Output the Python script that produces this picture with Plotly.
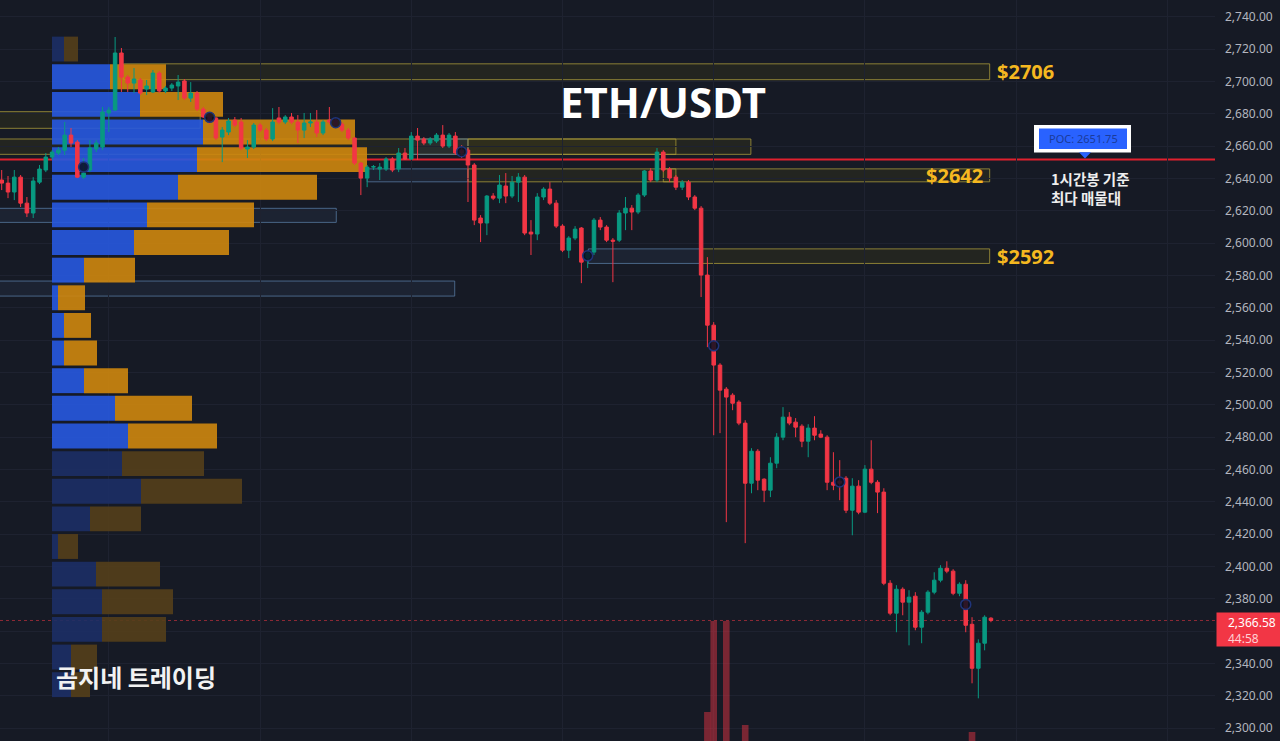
import plotly.graph_objects as go

# ---------------- ETH/USDT hourly candles (oldest -> newest) ----------------
opens = [
    2639.1, 2637.2, 2631.7, 2640.9, 2624.8, 2618.7, 2637.8, 2645.3, 2653.3, 2655.8,
    2657.6, 2666.9, 2662.6, 2640.9, 2645.3, 2658.3, 2659.5, 2680.6, 2682.4, 2717.7,
    2702.8, 2699.1, 2701.0, 2695.4, 2693.6, 2705.3, 2694.2, 2696.0, 2697.3, 2700.4,
    2689.8, 2692.9, 2683.0, 2679.3, 2677.5, 2665.7, 2668.8, 2676.2, 2675.0, 2658.3,
    2659.5, 2673.1, 2670.0, 2664.5, 2677.5, 2675.0, 2678.1, 2675.0, 2670.0, 2674.4,
    2675.0, 2668.2, 2676.2, 2676.2, 2673.7, 2670.0, 2665.1, 2649.6, 2640.3, 2647.1,
    2645.9, 2645.9, 2652.1, 2645.9, 2655.8, 2652.1, 2666.3, 2664.5, 2662.0, 2663.2,
    2666.9, 2660.1, 2666.3, 2657.6, 2657.6, 2648.4, 2615.6, 2612.5, 2629.2, 2627.9,
    2635.4, 2629.2, 2637.8, 2640.9, 2606.9, 2605.7, 2628.6, 2633.5, 2624.8, 2610.6,
    2595.7, 2603.2, 2609.4, 2590.8, 2594.5, 2614.3, 2610.0, 2601.9, 2601.9, 2618.7,
    2621.7, 2619.3, 2629.8, 2644.7, 2639.1, 2656.4, 2645.9, 2640.9, 2634.7, 2637.8,
    2628.6, 2621.7, 2580.3, 2549.3, 2524.6, 2509.7, 2506.0, 2501.7, 2488.7, 2451.5,
    2471.3, 2454.0, 2447.2, 2463.9, 2480.0, 2492.4, 2489.3, 2486.8, 2477.5, 2485.6,
    2481.9, 2480.0, 2452.1, 2452.8, 2454.6, 2434.8, 2449.7, 2433.6, 2460.2, 2452.1,
    2446.0, 2389.6, 2371.1, 2385.9, 2377.9, 2381.6, 2362.4, 2371.7, 2384.1, 2391.5,
    2398.9, 2397.1, 2383.4, 2389.0, 2364.2, 2337.0, 2352.5, 2368.0,
]
highs = [
    2645.3, 2641.6, 2645.3, 2642.2, 2628.6, 2640.9, 2648.4, 2655.8, 2657.6, 2659.5,
    2675.0, 2671.3, 2663.8, 2652.7, 2663.8, 2663.8, 2684.3, 2684.3, 2727.6, 2720.8,
    2704.1, 2708.4, 2702.2, 2701.0, 2707.2, 2706.6, 2697.3, 2699.1, 2704.1, 2701.6,
    2699.7, 2694.2, 2684.3, 2680.6, 2678.1, 2671.9, 2677.5, 2678.1, 2677.5, 2663.8,
    2674.4, 2674.4, 2671.3, 2683.6, 2684.3, 2679.3, 2680.6, 2679.3, 2680.6, 2680.6,
    2682.4, 2676.2, 2684.3, 2677.5, 2675.0, 2671.3, 2665.7, 2650.2, 2648.4, 2648.4,
    2649.6, 2653.3, 2653.3, 2658.9, 2658.9, 2668.8, 2671.3, 2665.7, 2665.7, 2668.2,
    2673.1, 2668.2, 2668.8, 2660.7, 2658.9, 2649.6, 2617.4, 2629.8, 2631.0, 2642.2,
    2643.4, 2641.6, 2643.4, 2642.2, 2614.3, 2631.0, 2634.7, 2637.8, 2626.7, 2611.8,
    2604.4, 2610.6, 2610.0, 2595.7, 2615.6, 2616.2, 2611.2, 2603.2, 2620.5, 2628.6,
    2623.6, 2631.0, 2645.3, 2646.5, 2658.9, 2657.6, 2647.1, 2642.2, 2639.1, 2639.1,
    2629.8, 2623.0, 2591.4, 2551.2, 2525.8, 2511.0, 2507.2, 2502.9, 2490.5, 2473.2,
    2472.6, 2454.6, 2467.6, 2482.5, 2498.6, 2495.5, 2491.8, 2488.0, 2488.0, 2493.0,
    2484.3, 2481.2, 2470.7, 2465.8, 2455.9, 2454.6, 2453.4, 2462.7, 2478.1, 2453.4,
    2448.4, 2391.5, 2388.4, 2387.1, 2385.3, 2384.1, 2373.0, 2385.3, 2396.4, 2400.8,
    2403.2, 2398.3, 2390.2, 2391.5, 2368.6, 2354.9, 2369.8, 2368.6,
]
lows = [
    2632.9, 2627.9, 2626.7, 2622.4, 2616.2, 2615.6, 2636.6, 2644.0, 2651.5, 2654.6,
    2654.6, 2659.5, 2640.3, 2639.7, 2644.0, 2656.4, 2657.6, 2668.8, 2681.8, 2693.6,
    2693.6, 2692.9, 2691.7, 2691.7, 2692.9, 2692.9, 2692.9, 2694.2, 2688.6, 2688.6,
    2687.4, 2681.8, 2677.5, 2673.7, 2663.8, 2650.2, 2666.9, 2671.9, 2657.6, 2652.7,
    2658.3, 2668.8, 2663.2, 2663.2, 2673.7, 2673.7, 2673.7, 2662.0, 2665.1, 2671.9,
    2665.7, 2666.9, 2673.7, 2671.9, 2668.8, 2663.8, 2648.4, 2629.8, 2634.7, 2645.3,
    2639.1, 2644.7, 2644.0, 2644.0, 2651.5, 2651.5, 2651.5, 2660.7, 2660.7, 2662.0,
    2658.9, 2658.9, 2654.6, 2652.7, 2625.5, 2611.2, 2600.7, 2605.0, 2626.7, 2624.8,
    2624.8, 2627.9, 2625.5, 2605.0, 2592.7, 2601.9, 2626.7, 2623.6, 2609.4, 2594.5,
    2590.8, 2601.9, 2575.3, 2584.6, 2592.7, 2608.1, 2600.7, 2575.9, 2600.7, 2608.1,
    2608.1, 2618.0, 2628.6, 2637.8, 2637.8, 2644.0, 2637.8, 2632.9, 2632.9, 2626.7,
    2620.5, 2566.7, 2535.7, 2481.2, 2482.5, 2427.4, 2496.7, 2487.4, 2414.4, 2445.3,
    2447.2, 2439.8, 2442.9, 2460.8, 2478.1, 2487.4, 2480.0, 2473.8, 2467.6, 2478.1,
    2479.4, 2447.2, 2447.2, 2441.0, 2433.0, 2419.3, 2432.3, 2433.0, 2450.9, 2433.0,
    2388.4, 2369.8, 2359.3, 2369.8, 2351.2, 2360.5, 2352.5, 2370.4, 2382.8, 2390.2,
    2395.8, 2382.2, 2381.6, 2359.3, 2327.7, 2318.4, 2348.1, 2365.5,
]
closes = [
    2637.2, 2631.7, 2640.9, 2624.8, 2618.7, 2638.5, 2645.9, 2653.3, 2656.4, 2657.6,
    2666.9, 2662.0, 2640.9, 2643.4, 2658.9, 2662.0, 2681.2, 2682.4, 2717.7, 2702.8,
    2699.1, 2701.6, 2692.9, 2697.3, 2705.3, 2694.2, 2696.0, 2697.9, 2699.7, 2689.8,
    2692.9, 2683.0, 2678.1, 2675.0, 2665.1, 2670.0, 2675.6, 2673.1, 2658.9, 2659.5,
    2673.1, 2670.0, 2664.5, 2675.0, 2675.0, 2678.1, 2675.0, 2670.0, 2674.4, 2675.0,
    2668.2, 2675.0, 2675.0, 2673.1, 2670.0, 2665.1, 2649.6, 2640.3, 2647.1, 2647.4,
    2647.1, 2652.1, 2645.3, 2655.8, 2652.1, 2666.3, 2663.8, 2662.0, 2664.5, 2666.9,
    2660.1, 2666.9, 2655.8, 2655.8, 2648.4, 2614.3, 2612.5, 2629.2, 2627.9, 2636.0,
    2629.2, 2637.8, 2640.9, 2606.3, 2605.7, 2628.6, 2633.5, 2624.8, 2610.6, 2595.7,
    2603.2, 2608.7, 2588.3, 2593.9, 2614.3, 2610.0, 2601.9, 2601.3, 2618.7, 2621.7,
    2619.3, 2629.8, 2644.7, 2639.1, 2656.4, 2645.3, 2640.3, 2634.7, 2637.8, 2628.6,
    2621.7, 2580.3, 2549.3, 2524.6, 2509.1, 2504.8, 2501.0, 2488.7, 2451.5, 2471.3,
    2453.4, 2447.2, 2463.9, 2480.0, 2492.4, 2488.7, 2486.2, 2477.5, 2485.6, 2481.2,
    2480.0, 2452.1, 2450.3, 2451.5, 2434.8, 2449.7, 2433.6, 2460.2, 2452.1, 2446.0,
    2389.6, 2371.1, 2385.9, 2377.9, 2381.0, 2362.4, 2371.7, 2384.1, 2391.5, 2398.9,
    2397.1, 2383.4, 2389.0, 2363.6, 2337.0, 2352.5, 2368.6, 2366.58,
]
bar_idx = list(range(len(opens)))

# session separators (bar index of each day start)
day_starts = [17, 41, 65, 89, 113, 137, 161, 185]

# volume spikes tall enough to rise into the price pane
vol_idx = [112, 113, 115, 118, 154]
vol_val = [21800, 30900, 30900, 20500, 19800]

# pivot markers
pivot_idx = [13, 33, 53, 73, 93, 113, 133, 153]
pivot_px = [2647.1, 2677.9, 2674.6, 2656.6, 2592.2, 2536.5, 2452.3, 2376.5]

# fixed-range volume profile (bin centre, buy volume, sell volume)
vp_price = [2720.15, 2703.05, 2685.95, 2668.85, 2651.75, 2634.65, 2617.55, 2600.45,
            2583.35, 2566.25, 2549.15, 2532.05, 2514.95, 2497.85, 2480.75, 2463.65,
            2446.55, 2429.45, 2412.35, 2395.25, 2378.15, 2361.05, 2343.95, 2326.85]
vp_buy = [12, 58, 88, 151, 145, 126, 95, 82, 32, 6, 12, 12,
          32, 63, 76, 70, 89, 38, 6, 44, 50, 50, 19, 19]
vp_sell = [14, 56, 83, 152, 170, 139, 107, 95, 51, 27, 27, 33,
           44, 77, 89, 82, 101, 51, 20, 64, 71, 64, 26, 19]
VA_LOW, VA_HIGH = 2472.2, 2711.6
POC = 2651.75
LAST = 2366.58
COUNTDOWN = "44:58"

# order-block zones: (start bar, end bar, low, high, style)
zones = [
    (19.3, 156.8, 2701.2, 2711.0, "supply"),
    (-5, 31.5, 2671.1, 2681.4, "supply"),
    (-5, 107.0, 2655.0, 2664.5, "supply"),
    (64.8, 74.0, 2655.0, 2664.5, "demand"),
    (74.0, 118.9, 2655.0, 2664.5, "supply"),
    (-5, 53.1, 2612.9, 2621.6, "demand"),
    (-5, 71.9, 2567.3, 2576.6, "demand"),
    (58.0, 74.0, 2638.0, 2646.0, "demand"),
    (74.0, 107.0, 2638.0, 2646.0, "supply"),
    (105.0, 156.8, 2638.0, 2646.0, "supply"),
    (93.1, 110.8, 2587.5, 2596.5, "demand"),
    (110.8, 156.8, 2587.5, 2596.5, "supply"),
]
# zone price tags: (text, bar position, price, anchor)
zone_tags = [("$2706", 157.7, 2706, "left"),
             ("$2642", 156.0, 2642, "right"),
             ("$2592", 157.7, 2592, "left")]

y_ticks = list(range(2300, 2741, 20))

# ---------------- styling ----------------
BG = "#161a25"
GRID = "#1e2230"
UP = "#089981"
DOWN = "#f23645"
PLOT_W = 1215.0
PLOT_H = 741.0

fig = go.Figure()

# volume profile (drawn first so candles sit on top)
in_va = [VA_LOW <= p <= VA_HIGH for p in vp_price]
buy_cols = ["#2759e0" if v else "#1c2f66" for v in in_va]
sell_cols = ["#cf870e" if v else "#553f1a" for v in in_va]
fig.add_trace(go.Bar(x=vp_buy, y=vp_price, base=[0] * len(vp_buy), orientation="h",
                     width=15.4, marker=dict(color=buy_cols, line=dict(width=0)),
                     opacity=0.9, xaxis="x", yaxis="y", hoverinfo="skip"))
fig.add_trace(go.Bar(x=vp_sell, y=vp_price, base=vp_buy, orientation="h",
                     width=15.4, marker=dict(color=sell_cols, line=dict(width=0)),
                     opacity=0.9, xaxis="x", yaxis="y", hoverinfo="skip"))

# candles
fig.add_trace(go.Candlestick(
    x=bar_idx, open=opens, high=highs, low=lows, close=closes,
    increasing=dict(line=dict(color=UP, width=1), fillcolor=UP),
    decreasing=dict(line=dict(color=DOWN, width=1), fillcolor=DOWN),
    whiskerwidth=0, xaxis="x2", yaxis="y", hoverinfo="skip"))

# pivot markers
fig.add_trace(go.Scatter(
    x=pivot_idx, y=pivot_px, mode="markers", xaxis="x2", yaxis="y",
    marker=dict(symbol="circle", size=10, color="rgba(12,16,34,0.85)",
                line=dict(color="#1f347a", width=1.5)),
    hoverinfo="skip"))

# volume bars
fig.add_trace(go.Bar(x=vol_idx, y=vol_val, xaxis="x2", yaxis="y2", width=1.05,
                     marker=dict(color="rgba(242,54,69,0.45)", line=dict(width=0)),
                     hoverinfo="skip"))

shapes = []
for x0, x1, lo, hi, kind in zones:
    if kind == "supply":
        line_c, fill_c = "rgba(176,160,60,0.75)", "rgba(120,105,10,0.14)"
    else:
        line_c, fill_c = "rgba(90,125,165,0.75)", "rgba(70,100,140,0.13)"
    shapes.append(dict(type="rect", xref="x2", yref="y", x0=x0, x1=x1, y0=lo, y1=hi,
                       line=dict(color=line_c, width=1), fillcolor=fill_c, layer="below"))

# point of control line
shapes.append(dict(type="line", xref="paper", yref="y", x0=0, x1=1, y0=POC, y1=POC,
                   line=dict(color="#e0202e", width=2), layer="below"))
# last price line
shapes.append(dict(type="line", xref="paper", yref="y", x0=0, x1=1, y0=LAST, y1=LAST,
                   line=dict(color="rgba(242,54,69,0.55)", width=1, dash="dot"),
                   layer="below"))


def px(xp):
    return xp / PLOT_W


# POC callout box
shapes.append(dict(type="rect", xref="paper", yref="y", x0=px(1034), x1=px(1131),
                   y0=POC + 4.4, y1=POC + 21.4, line=dict(width=0), fillcolor="#ffffff",
                   layer="above"))
shapes.append(dict(type="rect", xref="paper", yref="y", x0=px(1039), x1=px(1127),
                   y0=POC + 6.6, y1=POC + 19.3, line=dict(width=0), fillcolor="#2962ff",
                   layer="above"))
shapes.append(dict(type="path", xref="paper", yref="y",
                   path=f"M {px(1079)},{POC + 4.6} L {px(1091)},{POC + 4.6} L {px(1085)},{POC + 0.6} Z",
                   line=dict(width=0), fillcolor="#2962ff", layer="above"))

annotations = []
annotations.append(dict(text=f"POC: {POC:.2f}", xref="paper", yref="y", x=px(1083), y=POC + 13,
                        xanchor="center", yanchor="middle", showarrow=False,
                        font=dict(family="Noto Sans", size=11, color="#1b3b9a")))
annotations.append(dict(text="<b>1시간봉 기준<br>최다 매물대</b>", xref="paper", yref="paper",
                        x=px(1049), y=1 - 166 / PLOT_H, xanchor="left", yanchor="top",
                        align="left", showarrow=False,
                        font=dict(family="Noto Sans CJK KR", size=14.5, color="#eeeeee")))
annotations.append(dict(text="<b>ETH/USDT</b>", xref="paper", yref="paper",
                        x=px(663), y=1 - 101 / PLOT_H, xanchor="center", yanchor="middle",
                        showarrow=False,
                        font=dict(family="Noto Sans", size=42, color="#ffffff")))
annotations.append(dict(text="<b>곰지네 트레이딩</b>", xref="paper", yref="paper",
                        x=px(54), y=1 - 676 / PLOT_H, xanchor="left", yanchor="middle",
                        showarrow=False,
                        font=dict(family="Noto Sans CJK KR", size=24, color="#f2f2f2")))
for text, xb, price, anchor in zone_tags:
    annotations.append(dict(text=f"<b>{text}</b>", xref="x2", yref="y", x=xb, y=price,
                            xanchor=anchor, yanchor="middle", showarrow=False,
                            font=dict(family="Noto Sans", size=20, color="#f5b820")))

# last price tag on the price scale (box, then its two text lines)
annotations.append(dict(text=" ", xref="paper", yref="y", x=1 + 1 / PLOT_W, y=LAST,
                        xanchor="left", yanchor="top", yshift=8.6, width=64, height=33,
                        borderpad=0, bgcolor=DOWN, showarrow=False,
                        font=dict(size=1, color=DOWN)))
annotations.append(dict(
    text=f"{LAST:,.2f}<br><span style='color:#ffd0d4'>{COUNTDOWN}</span>",
    xref="paper", yref="y", x=1 + 11 / PLOT_W, y=LAST,
    xanchor="left", yanchor="top", yshift=8.0, align="left", showarrow=False,
    font=dict(family="Noto Sans", size=12, color="#ffffff")))

# price-scale labels; the one under the last-price tag stays hidden
tag_lo, tag_hi = LAST - 16, LAST + 6
tick_text = ["" if tag_lo <= v <= tag_hi else f"{v:,.2f}" for v in y_ticks]

fig.update_layout(
    width=1280, height=741,
    margin=dict(l=0, r=65, t=0, b=0),
    paper_bgcolor=BG, plot_bgcolor=BG,
    showlegend=False, hovermode=False, barmode="overlay", boxgap=0.2,
    xaxis=dict(range=[-52, PLOT_W - 52], visible=False, fixedrange=True,
               rangeslider=dict(visible=False)),
    xaxis2=dict(overlaying="x", anchor="y", range=[-0.27, 192.56],
                tickvals=day_starts, showticklabels=False, ticks="",
                showgrid=True, gridcolor=GRID, gridwidth=1, zeroline=False,
                showline=False, rangeslider=dict(visible=False)),
    yaxis=dict(side="right", range=[2292.0, 2750.5], tickvals=y_ticks,
               ticktext=tick_text, ticks="",
               showgrid=True, gridcolor=GRID, gridwidth=1, zeroline=False,
               showline=False, ticklabelstandoff=9,
               tickfont=dict(family="Noto Sans", size=12, color="#b2b5be")),
    yaxis2=dict(overlaying="y", anchor="x2", range=[18900, 93000], visible=False),
    shapes=shapes,
    annotations=annotations,
)

fig.write_html("out.html")
